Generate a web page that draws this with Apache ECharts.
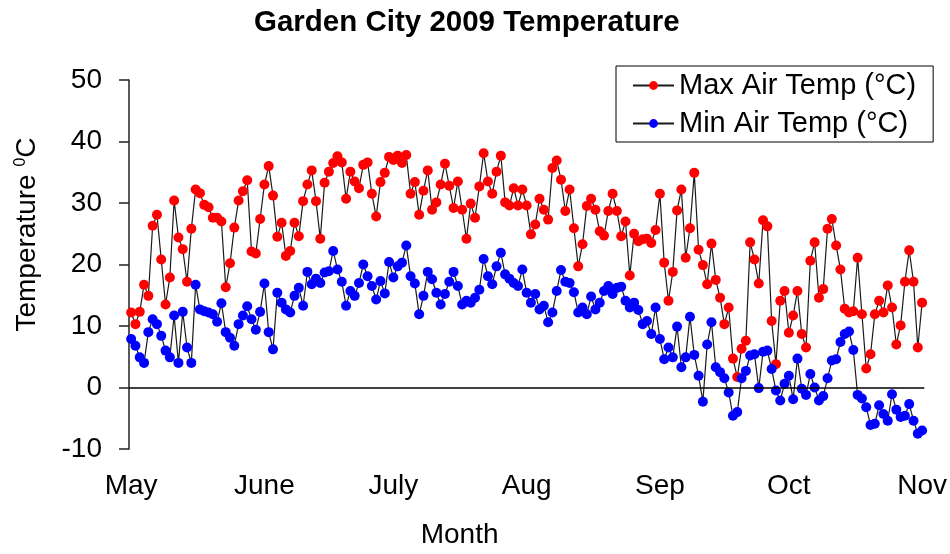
<!DOCTYPE html>
<html>
<head>
<meta charset="utf-8">
<script src="https://cdn.jsdelivr.net/npm/echarts@6/dist/echarts.min.js"></script>
<style>
html,body{margin:0;padding:0;background:#ffffff;}
#chart{width:950px;height:554px;}
</style>
</head>
<body>
<div id="chart"></div>
<script>
// Day index 0 = 1 May 2009
const monthLabels = ['May', 'June', 'July', 'Aug', 'Sep', 'Oct', 'Nov'];
const monthStartDays = [0, 31, 61, 92, 123, 153, 184];
const yTicks = [-10, 0, 10, 20, 30, 40, 50];

const maxAirTemp = [
  12.2, 10.3, 12.3, 16.7, 14.9, 26.3, 28.1, 20.8, 13.5, 17.9,
  30.4, 24.4, 22.5, 17.2, 25.8, 32.2, 31.6, 29.7, 29.3, 27.6,
  27.6, 27.0, 16.3, 20.2, 26.0, 30.4, 31.9, 33.7, 22.1, 21.8,
  27.4, 33.0, 36.0, 31.2, 24.5, 26.8, 21.4, 22.2, 26.8, 24.6,
  30.3, 33.0, 35.3, 30.3, 24.2, 33.3, 35.1, 36.5, 37.6, 36.6,
  30.7, 35.1, 33.5, 32.4, 36.2, 36.6, 31.5, 27.8, 33.4, 34.9,
  37.5, 37.0, 37.7, 36.5, 37.8, 31.5, 33.4, 28.1, 32.0, 35.3,
  28.9, 30.1, 33.0, 36.4, 32.8, 29.2, 33.5, 28.9, 24.2, 29.9,
  27.6, 32.7, 38.1, 33.5, 31.5, 35.1, 37.7, 30.1, 29.6, 32.4,
  29.6, 32.2, 29.6, 24.9, 26.5, 30.7, 28.9, 27.3, 35.7, 36.9,
  33.8, 28.7, 32.2, 25.9, 19.7, 23.3, 29.5, 30.7, 28.9, 25.4,
  24.7, 28.7, 31.5, 28.7, 24.6, 27.0, 18.2, 25.0, 23.8, 24.1,
  24.2, 23.5, 25.6, 31.5, 20.3, 14.1, 18.8, 28.8, 32.2, 21.1,
  25.9, 34.9, 22.4, 19.9, 16.8, 23.4, 17.5, 14.6, 10.3, 13.0,
  4.7, 1.7, 6.3, 7.6, 23.6, 20.8, 16.9, 27.2, 26.2, 10.8,
  3.8, 14.1, 15.7, 8.9, 11.7, 15.7, 8.7, 6.5, 20.6, 23.6,
  14.6, 16.0, 25.8, 27.4, 23.1, 19.2, 12.8, 12.2, 12.4, 21.1,
  11.9, 3.1, 5.4, 11.9, 14.1, 12.2, 16.6, 13.0, 7.0, 10.1,
  17.2, 22.3, 17.2, 6.5, 13.8
];

const minAirTemp = [
  7.9, 6.8, 4.9, 4.0, 9.0, 11.1, 10.3, 8.4, 6.0, 4.9,
  11.7, 4.0, 12.3, 6.5, 4.0, 16.7, 12.7, 12.4, 12.2, 11.9,
  10.7, 13.7, 9.0, 8.1, 6.8, 10.3, 11.7, 13.2, 11.1, 9.4,
  12.3, 16.9, 9.0, 6.2, 15.4, 13.8, 12.7, 12.2, 14.9, 16.2,
  13.3, 18.8, 16.8, 17.7, 17.0, 18.7, 18.9, 22.2, 19.2, 17.2,
  13.3, 15.7, 14.9, 17.0, 20.0, 18.1, 16.5, 14.3, 17.3, 15.3,
  20.4, 17.9, 19.7, 20.3, 23.1, 18.1, 16.9, 11.9, 14.9, 18.8,
  17.6, 15.4, 13.5, 15.2, 17.2, 18.8, 16.5, 13.5, 14.1, 13.8,
  14.6, 15.9, 20.9, 18.1, 16.8, 19.7, 21.9, 18.4, 17.7, 17.0,
  16.5, 19.2, 15.4, 13.8, 15.2, 12.7, 13.3, 10.6, 12.2, 15.7,
  19.1, 17.2, 17.0, 15.5, 12.2, 13.0, 11.9, 14.8, 12.7, 13.8,
  15.7, 16.5, 15.2, 16.2, 16.4, 14.1, 13.0, 13.8, 12.6, 10.3,
  10.8, 8.7, 13.0, 7.9, 4.6, 6.5, 4.9, 9.9, 3.3, 4.9,
  11.5, 5.3, 1.9, -2.3, 7.0, 10.6, 3.3, 2.5, 1.5, -0.8,
  -4.6, -4.0, 1.5, 2.7, 5.2, 5.4, -0.1, 5.8, 6.0, 3.0,
  -0.5, -2.1, 0.6, 1.9, -1.9, 4.7, -0.2, -1.2, 2.2, 0.0,
  -2.1, -1.4, 1.5, 4.4, 4.6, 7.4, 8.7, 9.1, 6.1, -1.2,
  -1.8, -3.2, -6.1, -5.9, -2.9, -4.3, -5.4, -1.1, -3.6, -4.8,
  -4.6, -2.7, -5.4, -7.5, -7.0
];

const FONT = '"Liberation Sans", Arial, Helvetica, sans-serif';

const chart = echarts.init(document.getElementById('chart'), null, { renderer: 'canvas' });

const toPairs = arr => arr.map((v, i) => [i, v]);

chart.setOption({
  animation: false,
  backgroundColor: '#ffffff',
  title: {
    text: 'Garden City 2009 Temperature',
    left: 254,
    top: 8,
    padding: 0,
    textStyle: { fontFamily: FONT, fontSize: 29.5, fontWeight: 'bold', color: '#000' }
  },
  legend: {
    orient: 'vertical',
    left: 616,
    top: 66,
    padding: [5, 17, 4, 16],
    itemGap: 9,
    itemWidth: 41,
    itemHeight: 11,
    borderColor: '#000',
    borderWidth: 1,
    backgroundColor: '#fff',
    textStyle: { fontFamily: FONT, fontSize: 29, color: '#000' },
    data: ['Max Air Temp (°C)', 'Min Air Temp (°C)']
  },
  grid: { left: 129, right: 25, top: 80, bottom: 104, containLabel: false },
  xAxis: {
    type: 'value',
    min: -0.5,
    max: 184.5,
    name: 'Month',
    nameLocation: 'middle',
    nameGap: 72,
    nameTextStyle: { fontFamily: FONT, fontSize: 28, color: '#000', padding: [0, 134, 0, 0] },
    axisLine: { show: false },
    axisTick: { show: false },
    splitLine: { show: false },
    axisLabel: {
      customValues: monthStartDays,
      margin: 23,
      fontFamily: FONT,
      fontSize: 28,
      color: '#000',
      formatter: v => {
        const k = monthStartDays.indexOf(Math.round(v));
        return k >= 0 ? monthLabels[k] : '';
      }
    }
  },
  yAxis: {
    type: 'value',
    min: yTicks[0],
    max: yTicks[yTicks.length - 1],
    interval: 10,
    name: '{a|Temperature }{s|0}{a|C}',
    nameLocation: 'middle',
    nameGap: 88,
    nameTextStyle: {
      fontFamily: FONT,
      color: '#000',
      padding: [0, 0, 0, 60],
      rich: {
        a: { fontFamily: FONT, fontSize: 28, color: '#000' },
        s: { fontFamily: FONT, fontSize: 16, color: '#000', verticalAlign: 'top' }
      }
    },
    axisLine: { show: true, onZero: false, lineStyle: { color: '#222', width: 1.5 } },
    axisTick: { show: true, inside: false, length: 10, lineStyle: { color: '#222', width: 1.5 } },
    splitLine: { show: false },
    axisLabel: { margin: 27, fontFamily: FONT, fontSize: 28, color: '#000' }
  },
  series: [
    {
      name: 'Max Air Temp (°C)',
      type: 'line',
      data: toPairs(maxAirTemp),
      symbol: 'circle',
      symbolSize: 10,
      showAllSymbol: true,
      lineStyle: { color: '#1a1a1a', width: 1.2 },
      itemStyle: { color: '#ff0000', borderWidth: 0 },
      emphasis: { disabled: true },
      markLine: {
        silent: true,
        symbol: 'none',
        label: { show: false },
        lineStyle: { color: '#000', type: 'solid', width: 1.5 },
        data: [{ yAxis: 0 }]
      }
    },
    {
      name: 'Min Air Temp (°C)',
      type: 'line',
      data: toPairs(minAirTemp),
      symbol: 'circle',
      symbolSize: 10,
      showAllSymbol: true,
      lineStyle: { color: '#1a1a1a', width: 1.2 },
      itemStyle: { color: '#0000ff', borderWidth: 0 },
      emphasis: { disabled: true }
    }
  ]
});
</script>
</body>
</html>
